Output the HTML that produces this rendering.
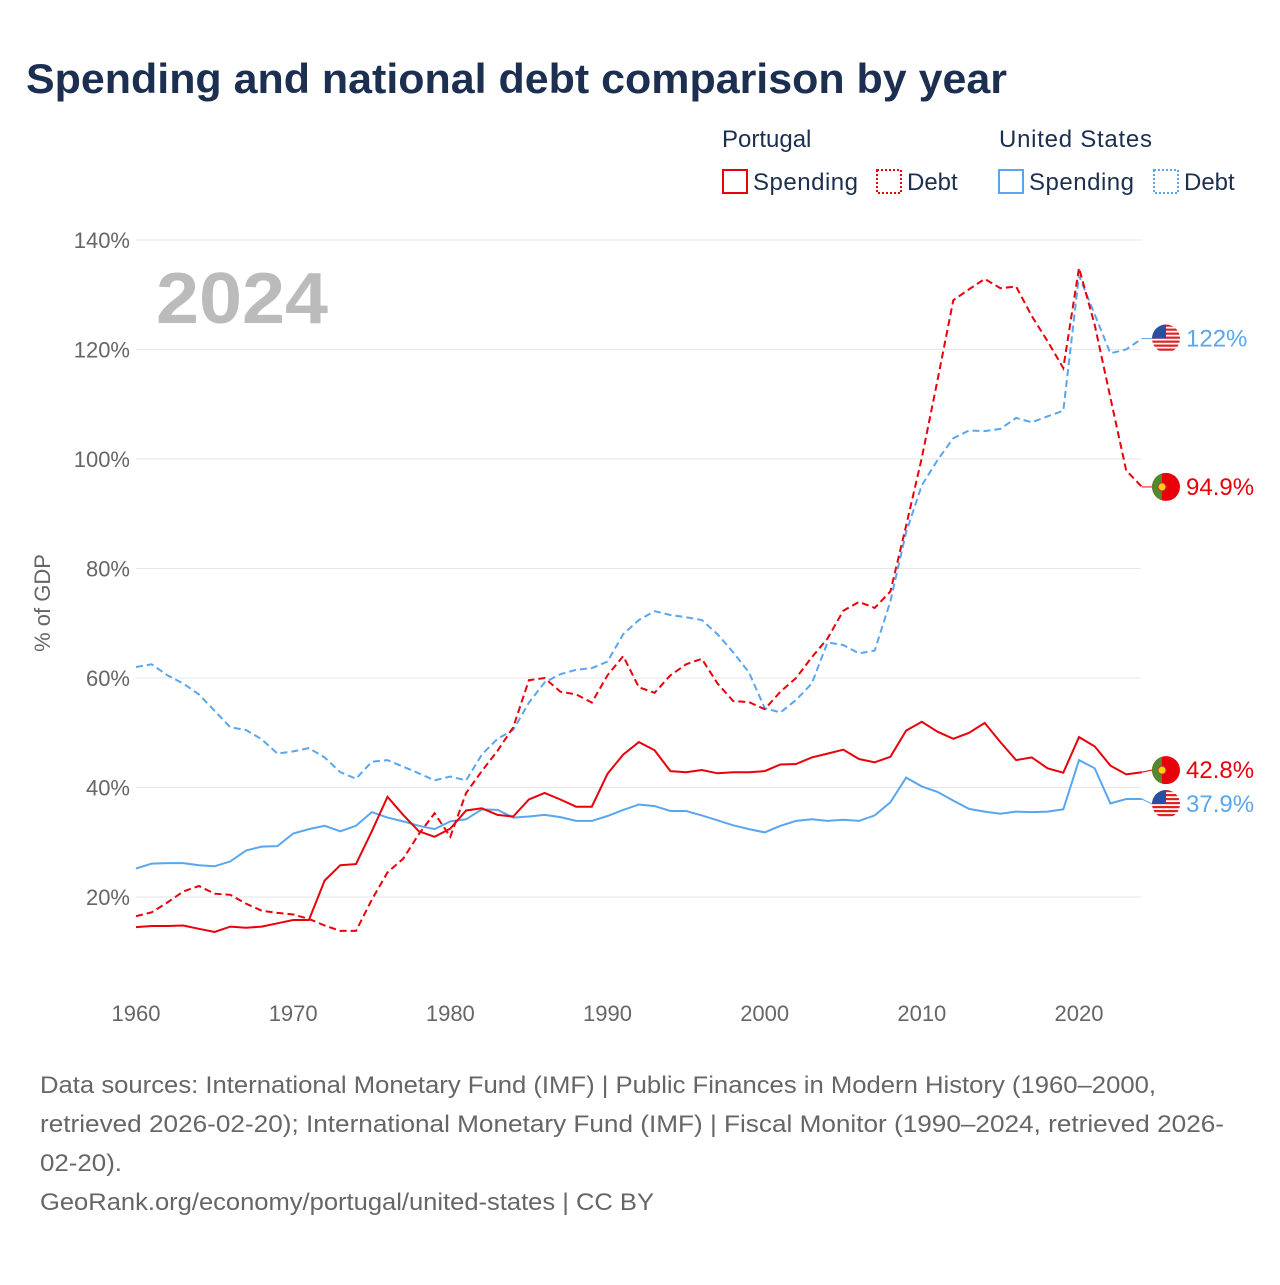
<!DOCTYPE html>
<html><head><meta charset="utf-8"><style>
body{margin:0;background:#fff;font-family:"Liberation Sans",sans-serif;}
svg text{font-family:"Liberation Sans",sans-serif;}
</style></head><body>
<svg id="chart" width="1280" height="1280" xmlns="http://www.w3.org/2000/svg">
<defs>
<clipPath id="c1"><circle cx="1166" cy="0" r="14"/></clipPath>
</defs>
<text x="26" y="93" font-size="42" font-weight="bold" fill="#1c2f50" textLength="981" lengthAdjust="spacingAndGlyphs">Spending and national debt comparison by year</text>
<g font-size="24" fill="#1c2f50">
<text x="722" y="147">Portugal</text>
<text x="999" y="147" textLength="153">United States</text>
<g><rect x="723" y="170" width="24" height="23" fill="none" stroke="#e8000b" stroke-width="2"/><text x="753" y="190" textLength="105">Spending</text></g>
<g><rect x="877" y="170" width="24" height="23" fill="none" stroke="#e8000b" stroke-width="2" stroke-dasharray="2,2"/><text x="907" y="190">Debt</text></g>
<g><rect x="999" y="170" width="24" height="23" fill="none" stroke="#5aa6ee" stroke-width="2"/><text x="1029" y="190" textLength="105">Spending</text></g>
<g><rect x="1154" y="170" width="24" height="23" fill="none" stroke="#5aa6ee" stroke-width="2" stroke-dasharray="2,2"/><text x="1184" y="190">Debt</text></g>
</g>
<text x="156" y="323" font-size="72" font-weight="bold" fill="#bbb" textLength="172" lengthAdjust="spacingAndGlyphs">2024</text>
<text transform="translate(50,603) rotate(-90)" text-anchor="middle" font-size="22" fill="#666">% of GDP</text>
<g id="grid"></g><g id="series"></g><g id="ends"></g>
<g font-size="24" fill="#666">
<text x="40" y="1093" textLength="1116" lengthAdjust="spacingAndGlyphs">Data sources: International Monetary Fund (IMF) | Public Finances in Modern History (1960–2000,</text>
<text x="40" y="1132" textLength="1184" lengthAdjust="spacingAndGlyphs">retrieved 2026-02-20); International Monetary Fund (IMF) | Fiscal Monitor (1990–2024, retrieved 2026-</text>
<text x="40" y="1171" textLength="82" lengthAdjust="spacingAndGlyphs">02-20).</text>
<text x="40" y="1210" textLength="614" lengthAdjust="spacingAndGlyphs">GeoRank.org/economy/portugal/united-states | CC BY</text>
</g>
</svg>
<script>
const years=[];for(let y=1960;y<=2024;y++)years.push(y);
const yTicks=[20,40,60,80,100,120,140];
const xTicks=[1960,1970,1980,1990,2000,2010,2020];
const ptSpending=[14.5,14.7,14.7,14.8,14.2,13.6,14.6,14.4,14.6,15.2,15.8,15.8,23,25.8,26,32,38.3,35,32,31,32.5,35.8,36.2,35,34.7,37.8,39,37.8,36.5,36.5,42.5,46,48.3,46.8,43,42.8,43.2,42.6,42.8,42.8,43,44.2,44.3,45.5,46.2,46.9,45.2,44.6,45.6,50.4,52,50.2,48.9,50,51.8,48.3,45,45.5,43.5,42.7,49.2,47.5,44,42.4,42.8];
const ptDebt=[16.5,17.2,19,21,22,20.6,20.4,18.8,17.5,17.1,16.8,16,14.8,13.8,13.8,19.5,24.5,27,31.5,35.3,31,39,43,46.7,51,59.6,60,57.5,57,55.5,60.5,64,58.3,57.3,60.5,62.5,63.5,59,55.8,55.6,54.3,57.5,60,63.8,67.2,72.3,73.9,72.8,75.8,87.8,100.2,114.4,129,131,132.9,131.2,131.5,126.1,121.5,116.6,134.9,124.5,111.2,97.9,94.9];
const usSpending=[25.2,26.1,26.2,26.2,25.8,25.6,26.5,28.5,29.2,29.3,31.6,32.4,33,32,33,35.5,34.5,33.8,33,32.4,33.8,34.2,36,35.9,34.5,34.7,35,34.6,33.9,33.9,34.8,35.9,36.9,36.6,35.7,35.7,34.9,34,33.1,32.4,31.8,33,33.9,34.2,33.9,34.1,33.9,34.9,37.3,41.8,40.2,39.2,37.6,36.1,35.6,35.2,35.6,35.5,35.6,36,45,43.5,37.1,37.9,37.9];
const usDebt=[62,62.5,60.5,59,57,54,51,50.5,48.8,46.2,46.6,47.2,45.5,42.8,41.6,44.7,45,43.8,42.6,41.3,42,41.3,46,48.9,50.5,55.5,59.2,60.7,61.5,61.8,63,68,70.6,72.2,71.5,71.1,70.6,68,64.7,61,54.5,53.7,56,59,66.5,66,64.5,65,74,86.6,95.2,99.8,103.8,105.2,105.1,105.5,107.5,106.7,107.8,108.8,133.5,126.4,119.3,120,122];
const X=y=>136+(y-1960)*943/60;
const Y=v=>240+(140-v)*5.475;
const NS="http://www.w3.org/2000/svg";
function mk(t,a,p){const e=document.createElementNS(NS,t);for(const k in a)e.setAttribute(k,a[k]);p.appendChild(e);return e;}
const grid=document.getElementById('grid');
yTicks.forEach(v=>{
 const l=mk('line',{x1:136,x2:1141,y1:Y(v),y2:Y(v),stroke:'#e6e6e6','stroke-width':1},grid);
 
 
 const t=mk('text',{x:130,y:Y(v)+8,'text-anchor':'end','font-size':22,fill:'#666'},grid);
 t.textContent=v+'%';
 
 
});
xTicks.forEach(y=>{
 const t=mk('text',{x:X(y),y:1021,'text-anchor':'middle','font-size':22,fill:'#666'},grid);
 t.textContent=y;
 
 
});
const ser=document.getElementById('series');
function line(vals,color,dash,name){
 const d=vals.map((v,i)=>(i?'L':'M')+X(years[i]).toFixed(1)+','+Y(v).toFixed(1)).join('');
 const p=mk('path',{d:d,fill:'none',stroke:color,'stroke-width':2,'stroke-dasharray':dash},ser);
 
 
}
line(usDebt,'#5aa6ee','7,4','line-us-debt');
line(usSpending,'#5aa6ee','none','line-us-spending');
line(ptDebt,'#e8000b','7,4','line-portugal-debt');
line(ptSpending,'#e8000b','none','line-portugal-spending');
const ends=document.getElementById('ends');
function endLabel(v,color,pt,txt,name,yOff){
 const cy=Y(v)+yOff;
 mk('line',{x1:X(2024),x2:1152,y1:Y(v),y2:cy,stroke:color,'stroke-width':1},ends);
 const g=mk('g',{},ends);
 
 
 if(pt){
  mk('circle',{cx:1166,cy:cy,r:14,fill:'#e8000b'},g);
  mk('path',{d:`M1162,${cy-13.4}A14,14 0 0,0 1162,${cy+13.4}Z`,fill:'#4f8a2e'},g);
  mk('circle',{cx:1162,cy:cy,r:4,fill:'#f7d116',stroke:'#c33','stroke-width':1},g);
 }else{
  const inner=mk('g',{transform:`translate(0,${cy})`,'clip-path':'url(#c1)'},g);
  mk('rect',{x:1152,y:-14,width:28,height:28,fill:'#fff'},inner);
  for(let i=0;i<7;i++)mk('rect',{x:1152,y:-14+i*4,width:28,height:2.2,fill:'#d22'},inner);
  mk('rect',{x:1152,y:-14,width:14,height:14,fill:'#2a4fa0'},inner);
 }
 const t=mk('text',{x:1186,y:cy+8,'font-size':24,fill:color},g);
 t.textContent=txt;
}
endLabel(usDebt[usDebt.length-1],'#5aa6ee',false,'122%','end-label-us-debt',0);
endLabel(ptDebt[ptDebt.length-1],'#e8000b',true,'94.9%','end-label-portugal-debt',0);
endLabel(ptSpending[ptSpending.length-1],'#e8000b',true,'42.8%','end-label-portugal-spending',-2);
endLabel(usSpending[usSpending.length-1],'#5aa6ee',false,'37.9%','end-label-us-spending',5);
</script>
</body></html>
